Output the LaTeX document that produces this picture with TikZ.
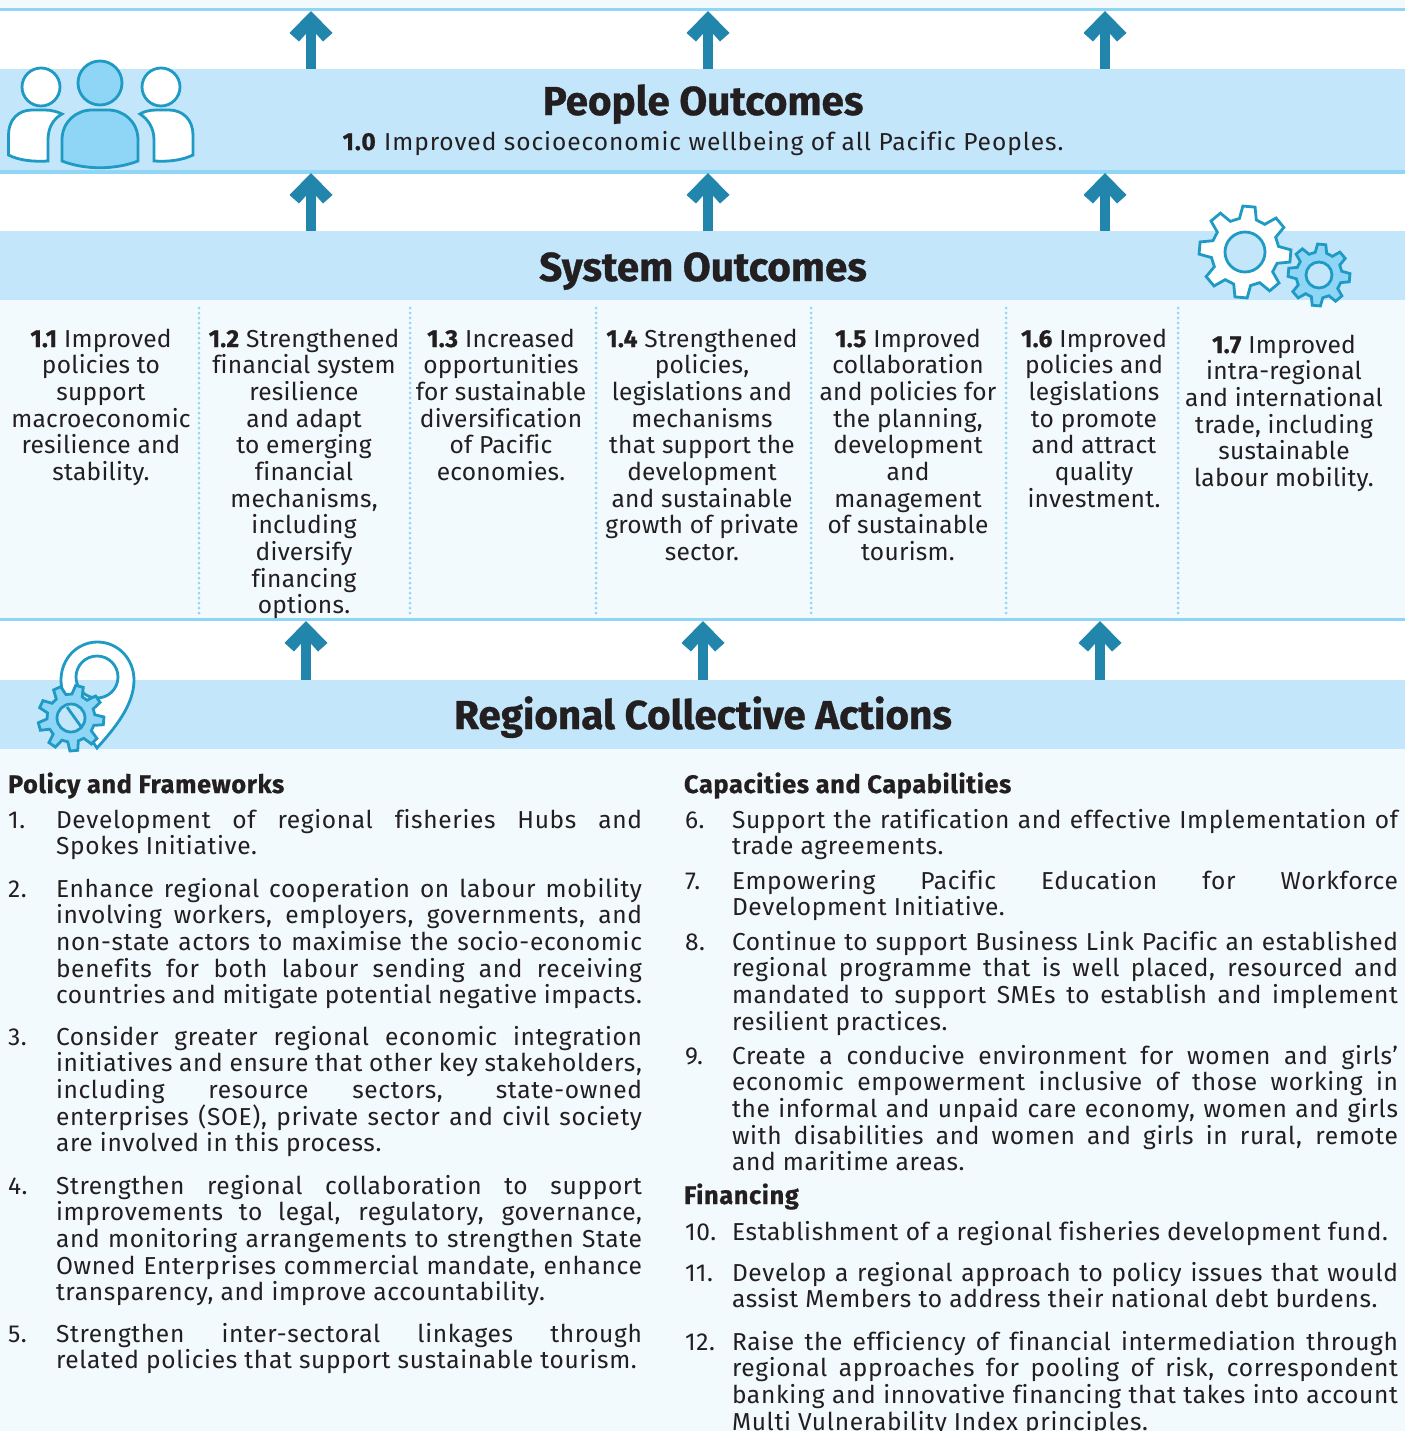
\documentclass[tikz,border=0pt]{standalone}
\usepackage{fontspec}
\usetikzlibrary{arrows.meta}
\setmainfont{Fira Sans}[Ligatures=NoCommon,BoldFeatures={FakeBold=0.8}]
\newfontfamily\listf{Fira Sans}[Ligatures=NoCommon,LetterSpace=2.7,BoldFeatures={FakeBold=0.8}]
\newfontfamily\colf{Fira Sans}[Ligatures=NoCommon,LetterSpace=1.0,BoldFeatures={FakeBold=0.8}]
\newfontfamily\onef{Fira Sans}[Ligatures=NoCommon,LetterSpace=3.8,BoldFeatures={FakeBold=0.8}]
\newfontfamily\headf{Fira Sans}[Ligatures=NoCommon,LetterSpace=2.5,BoldFeatures={FakeBold=0.8}]
\definecolor{inkc}{HTML}{231F20}
\definecolor{bandc}{HTML}{C4E6FA}
\definecolor{palec}{HTML}{F2FAFE}
\definecolor{linec}{HTML}{8FD6F6}
\definecolor{arrowc}{HTML}{2185AC}
\definecolor{iconc}{HTML}{1E9AC4}
\makeatletter
\pgfdeclarearrow{
  name=BlockUp,
  setup code={\pgfarrowssettipend{0pt}\pgfarrowssetlineend{-17pt}\pgfarrowssetbackend{-22.875pt}\pgfarrowssetvisualbackend{-17pt}},
  drawing code={
    \pgfpathmoveto{\pgfqpoint{0pt}{0pt}}
    \pgfpathlineto{\pgfqpoint{-16.5pt}{16.125pt}}
    \pgfpathlineto{\pgfqpoint{-22.875pt}{9pt}}
    \pgfpathlineto{\pgfqpoint{-17.25pt}{3.94pt}}
    \pgfpathlineto{\pgfqpoint{-17.25pt}{-3.94pt}}
    \pgfpathlineto{\pgfqpoint{-22.875pt}{-9pt}}
    \pgfpathlineto{\pgfqpoint{-16.5pt}{-16.125pt}}
    \pgfpathclose
    \pgfusepathqfill
  }
}
\makeatother
\newcommand\bodyfont{\listf\fontsize{18.4pt}{20pt}\selectfont}
\newcommand\colfont{\colf\fontsize{18.4pt}{20pt}\selectfont}
\newcommand\cbox[2]{\parbox[t]{#1pt}{\colfont\centering #2\par}}
\newcommand\jl[1]{\makebox[\linewidth][s]{#1}\\}
\newcommand\lbox[2]{\parbox[t]{#1pt}{\bodyfont\setlength\parindent{0pt}#2\par}}
% gear: centre x, centre y, outer, root, rotation, teeth, fill, hole r, hole fill
\newcommand\gearshape[9]{%
  \pgfmathsetmacro\gp{360/#6}%
  \draw[iconline,fill=#7] ({#1+#4*cos(#5-0.32*\gp)},{#2+#4*sin(#5-0.32*\gp)})
    \foreach \gi in {1,...,#6}{
      -- ({#1+#3*cos(#5+(\gi-1)*\gp-0.17*\gp)},{#2+#3*sin(#5+(\gi-1)*\gp-0.17*\gp)})
      -- ({#1+#3*cos(#5+(\gi-1)*\gp+0.17*\gp)},{#2+#3*sin(#5+(\gi-1)*\gp+0.17*\gp)})
      -- ({#1+#4*cos(#5+(\gi-1)*\gp+0.32*\gp)},{#2+#4*sin(#5+(\gi-1)*\gp+0.32*\gp)})
      -- ({#1+#4*cos(#5+\gi*\gp-0.32*\gp)},{#2+#4*sin(#5+\gi*\gp-0.32*\gp)})
    } -- cycle;
  \draw[iconline,fill=#9] (#1,#2) circle (#8);
}
\tikzset{
  band/.style={fill=bandc,draw=none,minimum width=1053.75pt,inner sep=0pt,outer sep=0pt},
  whitestrip/.style={fill=white,draw=none},
  rulel/.style={draw=linec,line width=2.4pt},
  upar/.style={color=arrowc,line width=7.875pt,-{BlockUp}},
  sep/.style={draw=linec,line width=2.25pt,line cap=round,dash pattern=on 0pt off 3.75pt},
  iconline/.style={draw=iconc,line width=2.1pt,line join=miter},
  txt/.style={inner sep=0pt,outer sep=0pt,text=inkc,anchor=base},
  ltxt/.style={txt,anchor=base west},
  title/.style={txt,font=\bfseries\fontsize{30.3pt}{32pt}\selectfont},
  sub/.style={ltxt,font=\headf\bfseries\fontsize{19pt}{20pt}\selectfont},
}
\begin{document}
\begin{tikzpicture}[x=0.75pt,y=-0.75pt]
\useasboundingbox (0,0) rectangle (1405,1431);
\fill[palec] (0,0) rectangle (1405,1431);
\fill[whitestrip] (0,10) rectangle (1405,69);
\fill[whitestrip] (0,172) rectangle (1405,231);
\fill[whitestrip] (0,620) rectangle (1405,680);
\node[band,minimum height=76.5pt] (people) at (702.5,120) {};
\node[band,minimum height=51.75pt] (system) at (702.5,265.5) {};
\node[band,minimum height=51.75pt] (actions) at (702.5,714.5) {};
\draw[rulel] (0,9.5) -- (1405,9.5);
\draw[rulel] (0,172) -- (1405,172);
\draw[rulel] (0,619.5) -- (1405,619.5);
% arrows
\coordinate (t1) at (311,11); \coordinate (t2) at (708,11); \coordinate (t3) at (1105,11);
\coordinate (m1) at (311,173); \coordinate (m2) at (708,173); \coordinate (m3) at (1105,173);
\coordinate (b1) at (306,621); \coordinate (b2) at (703,621); \coordinate (b3) at (1100,621);
\draw[upar] (t1 |- people.north) -- (t1);
\draw[upar] (t2 |- people.north) -- (t2);
\draw[upar] (t3 |- people.north) -- (t3);
\draw[upar] (m1 |- system.north) -- (m1);
\draw[upar] (m2 |- system.north) -- (m2);
\draw[upar] (m3 |- system.north) -- (m3);
\draw[upar] (b1 |- actions.north) -- (b1);
\draw[upar] (b2 |- actions.north) -- (b2);
\draw[upar] (b3 |- actions.north) -- (b3);
% people icon
\draw[iconline,fill=white] (41,87) circle (19);
\draw[iconline,fill=white] (161,87) circle (19);
\draw[iconline,fill=linec] (100,83) circle (22);
\draw[iconline,fill=white] (8.5,155) -- (8.5,135) .. controls (8.5,120) and (18,110) .. (32,110) -- (45,110) .. controls (52,110) and (58,112) .. (62,114) .. controls (53,119) and (48,128) .. (48,140) -- (48,161) .. controls (32,162) and (18,160) .. (8.5,155) -- cycle;
\draw[iconline,fill=white] (193,155) -- (193,135) .. controls (193,120) and (183,110) .. (169,110) -- (156,110) .. controls (149,110) and (143,112) .. (140,114) .. controls (148,119) and (154,128) .. (154,140) -- (154,161) .. controls (169,162) and (183,160) .. (193,155) -- cycle;
\draw[iconline,fill=linec] (62,161) -- (62,140) .. controls (62,122) and (76,110) .. (92,110) -- (108,110) .. controls (124,110) and (138,122) .. (138,140) -- (138,161) .. controls (115,170) and (85,170) .. (62,161) -- cycle;
% gears
\gearshape{1245}{252}{46}{34}{-85}{8}{white}{20}{bandc}
\gearshape{1319}{275}{31}{23}{-85}{8}{linec}{13}{bandc}
% pin
\path[fill=white,even odd rule] (97,748) .. controls (115,728) and (134,705) .. (134,680) .. controls (134,659) and (118,642) .. (97.5,642) .. controls (77,642) and (61,659) .. (61,680) .. controls (61,690) and (65,700) .. (70,708) -- cycle (97,677) circle (21);
\draw[iconline] (97,748) .. controls (115,728) and (134,705) .. (134,680) .. controls (134,659) and (118,642) .. (97.5,642) .. controls (77,642) and (61,659) .. (61,680) .. controls (61,690) and (65,700) .. (70,708) -- cycle;
\draw[iconline] (97,677) circle (21);
\gearshape{71}{718}{33}{24}{-75}{9}{linec}{14}{bandc}
\draw[iconline] (67,707) -- (82,728);
% titles
\node[title] (tpeople) at (703,115) {People Outcomes};
\node[txt] (tpeoplesub) at (703,150) {\onef\fontsize{18.4pt}{20pt}\selectfont\textbf{1.0} Improved socioeconomic wellbeing of all Pacific Peoples.};
\node[title] (tsystem) at (703,281) {System Outcomes};
\node[title] (tactions) at (703,729) {Regional Collective Actions};
% separators
\draw[sep] (199,308) -- (199,618);
\draw[sep] (410,308) -- (410,618);
\draw[sep] (596,308) -- (596,618);
\draw[sep] (811,308) -- (811,618);
\draw[sep] (1006,308) -- (1006,618);
\draw[sep] (1178,308) -- (1178,618);
% columns
\node[txt] (c1) at (101,347) {\cbox{146}{\textbf{1.1} Improved\\policies to\\support\\macroeconomic\\resilience and\\stability.}};
\node[txt] (c2) at (304,347) {\cbox{150}{\textbf{1.2} Strengthened\\financial system\\resilience\\and adapt\\to emerging\\financial\\mechanisms,\\including\\diversify\\financing\\options.}};
\node[txt] (c3) at (501,347) {\cbox{135}{\textbf{1.3} Increased\\opportunities\\for sustainable\\diversification\\of Pacific\\economies.}};
\node[txt] (c4) at (702,347) {\cbox{150}{\textbf{1.4} Strengthened\\policies,\\legislations and\\mechanisms\\that support the\\development\\and sustainable\\growth of private\\sector.}};
\node[txt] (c5) at (908,347) {\cbox{142}{\textbf{1.5} Improved\\collaboration\\and policies for\\the planning,\\development\\and\\management\\of sustainable\\tourism.}};
\node[txt] (c6) at (1094,347) {\cbox{125}{\textbf{1.6} Improved\\policies and\\legislations\\to promote\\and attract\\quality\\investment.}};
\node[txt] (c7) at (1284,353) {\cbox{150}{\textbf{1.7} Improved\\intra-regional\\and international\\trade, including\\sustainable\\labour mobility.}};
% left list
\node[sub] (hpol) at (8,793) {Policy and Frameworks};
\node[ltxt] (n1) at (8,828) {\bodyfont 1.};
\node[ltxt] (i1) at (56,828) {\lbox{439.5}{\jl{Development of regional fisheries Hubs and}Spokes Initiative.}};
\node[ltxt] (n2) at (8,897) {\bodyfont 2.};
\node[ltxt] (i2) at (56,897) {\lbox{439.5}{\jl{Enhance regional cooperation on labour mobility}\jl{involving workers, employers, governments, and}\jl{non-state actors to maximise the socio-economic}\jl{benefits for both labour sending and receiving}countries and mitigate potential negative impacts.}};
\node[ltxt] (n3) at (8,1045) {\bodyfont 3.};
\node[ltxt] (i3) at (56,1045) {\lbox{439.5}{\jl{Consider greater regional economic integration}\jl{initiatives and ensure that other key stakeholders,}\jl{including resource sectors, state-owned}\jl{enterprises (SOE), private sector and civil society}are involved in this process.}};
\node[ltxt] (n4) at (8,1194) {\bodyfont 4.};
\node[ltxt] (i4) at (56,1194) {\lbox{439.5}{\jl{Strengthen regional collaboration to support}\jl{improvements to legal, regulatory, governance,}\jl{and monitoring arrangements to strengthen State}\jl{Owned Enterprises commercial mandate, enhance}transparency, and improve accountability.}};
\node[ltxt] (n5) at (8,1342) {\bodyfont 5.};
\node[ltxt] (i5) at (56,1342) {\lbox{439.5}{\jl{Strengthen inter-sectoral linkages through}related policies that support sustainable tourism.}};
% right list
\node[sub] (hcap) at (684,793) {Capacities and Capabilities};
\node[ltxt] (n6) at (685,828) {\bodyfont 6.};
\node[ltxt] (i6) at (732,828) {\lbox{499.5}{\jl{Support the ratification and effective Implementation of}trade agreements.}};
\node[ltxt] (n7) at (685,889) {\bodyfont 7.};
\node[ltxt] (i7) at (732,889) {\lbox{499.5}{\jl{Empowering Pacific Education for Workforce}Development Initiative.}};
\node[ltxt] (n8) at (685,950) {\bodyfont 8.};
\node[ltxt] (i8) at (732,950) {\lbox{499.5}{\jl{Continue to support Business Link Pacific an established}\jl{regional programme that is well placed, resourced and}\jl{mandated to support SMEs to establish and implement}resilient practices.}};
\node[ltxt] (n9) at (685,1064) {\bodyfont 9.};
\node[ltxt] (i9) at (732,1064) {\lbox{499.5}{\jl{Create a conducive environment for women and girls’}\jl{economic empowerment inclusive of those working in}\jl{the informal and unpaid care economy, women and girls}\jl{with disabilities and women and girls in rural, remote}and maritime areas.}};
\node[sub] (hfin) at (684,1204) {Financing};
\node[ltxt] (n10) at (685,1240) {\bodyfont 10.};
\node[ltxt] (i10) at (732,1240) {\lbox{499.5}{Establishment of a regional fisheries development fund.}};
\node[ltxt] (n11) at (685,1281) {\bodyfont 11.};
\node[ltxt] (i11) at (732,1281) {\lbox{499.5}{\jl{Develop a regional approach to policy issues that would}assist Members to address their national debt burdens.}};
\node[ltxt] (n12) at (685,1350) {\bodyfont 12.};
\node[ltxt] (i12) at (732,1350) {\lbox{499.5}{\jl{Raise the efficiency of financial intermediation through}\jl{regional approaches for pooling of risk, correspondent}\jl{banking and innovative financing that takes into account}Multi Vulnerability Index principles.}};
\end{tikzpicture}
\end{document}
